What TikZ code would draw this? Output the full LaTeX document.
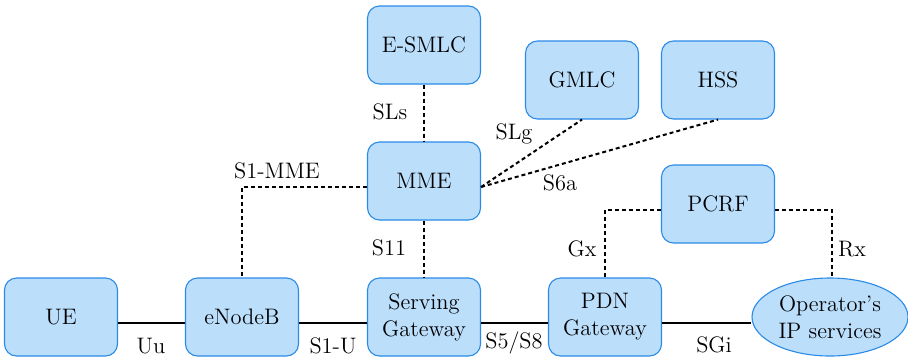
\documentclass[tikz,border=0pt]{standalone}
\usetikzlibrary{shapes.geometric}
\definecolor{boxfill}{HTML}{BBDEFB}
\definecolor{boxdraw}{HTML}{2A8AE6}
\begin{document}
\begin{tikzpicture}[x=0.5pt,y=-0.5pt,
  every node/.style={font=\fontsize{11.2}{13.6}\selectfont},
  entity/.style={draw=boxdraw, fill=boxfill, line width=0.55pt, rounded corners=6pt,
    minimum width=56.5pt, minimum height=39pt, align=center, inner sep=0pt},
  service/.style={ellipse, draw=boxdraw, fill=boxfill, line width=0.55pt,
    minimum width=78pt, minimum height=39pt, align=center, inner sep=0pt},
  userplane/.style={line width=1pt},
  ctrlplane/.style={line width=1pt, dash pattern=on 2pt off 1.5pt},
  lbl/.style={inner sep=0pt}]
\useasboundingbox (0,0) rectangle (908,359);

% network elements
\node[entity] (ue)    at (61,317)  {UE};
\node[entity] (enb)   at (242,317) {eNodeB};
\node[entity] (sgw)   at (424,317) {Serving\\Gateway};
\node[entity] (pgw)   at (605,317) {PDN\\Gateway};
\node[service] (ip)   at (830,317) {Operator's\\IP services};
\node[entity] (mme)   at (424,181) {MME};
\node[entity] (esmlc) at (424,45)  {E-SMLC};
\node[entity] (gmlc)  at (582,80)  {GMLC};
\node[entity] (hss)   at (718,80)  {HSS};
\node[entity] (pcrf)  at (718,204) {PCRF};

% user-plane links
\draw[userplane] ([yshift=-3pt]ue.east)  -- ([yshift=-3pt]enb.west);
\draw[userplane] ([yshift=-3pt]enb.east) -- ([yshift=-3pt]sgw.west);
\draw[userplane] ([yshift=-3pt]sgw.east) -- ([yshift=-3pt]pgw.west);
\draw[userplane] ([yshift=-3pt]pgw.east) -- ([yshift=-3pt]ip.west);

% control-plane links
\draw[ctrlplane] (esmlc.south) -- (mme.north);
\draw[ctrlplane] (mme.south) -- (sgw.north);
\draw[ctrlplane] ([yshift=-3pt]mme.west) -| (enb.north);
\draw[ctrlplane] ([yshift=-3pt]mme.east) -- (gmlc.south);
\draw[ctrlplane] ([yshift=-3pt]mme.east) -- (hss.south);
\draw[ctrlplane] ([yshift=-3pt]pcrf.west) -| (pgw.north);
\draw[ctrlplane] ([yshift=-3pt]pcrf.east) -| ([xshift=1pt]ip.north);

% interface names
\node[lbl] (uu)   at (151,346) {Uu};
\node[lbl] (s1u)  at (333,346) {S1-U};
\node[lbl] (s5)   at (514,343) {S5/S8};
\node[lbl] (sgi)  at (714,345) {SGi};
\node[lbl] (sls)  at (390,112) {SLs};
\node[lbl] (s11)  at (389,248) {S11};
\node[lbl] (s1m)  at (277,171) {S1-MME};
\node[lbl] (gx)   at (582,249) {Gx};
\node[lbl] (rx)   at (852,249) {Rx};
\node[lbl] (slg)  at (514,134) {SLg};
\node[lbl] (s6a)  at (560,183) {S6a};
\end{tikzpicture}
\end{document}
